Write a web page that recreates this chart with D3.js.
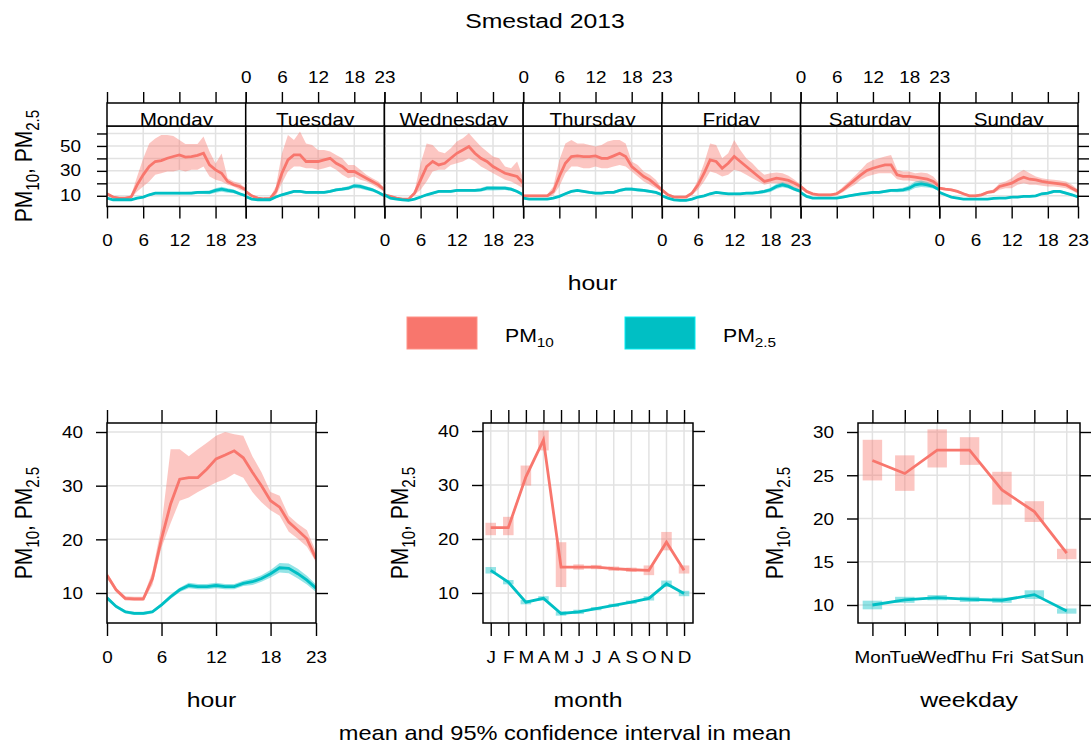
<!DOCTYPE html>
<html>
<head>
<meta charset="utf-8">
<script src="https://cdn.jsdelivr.net/npm/d3@7"></script>
<style>
  body { margin: 0; background: #fff; }
  svg { display: block; }
  text { font-family: "Liberation Sans", Arial, Helvetica, sans-serif; fill: #000; }
</style>
</head>
<body>
<svg id="chart" width="1091" height="747"></svg>
<script>
// ---------------- data ----------------
const days = ["Monday", "Tuesday", "Wednesday", "Thursday", "Friday", "Saturday", "Sunday"];
const hourTicks = [0, 6, 12, 18, 23];
const topYTicks = [10, 20, 30, 40, 50, 60];
const topYLabels = [10, 30, 50];

// hourly means by weekday (Mon..Sun), PM10
const pm10ByDay = [
  [11.6, 9.0, 8.1, 8.1, 9.0, 18.8, 26.8, 33.5, 37.5, 38.3, 40.1, 41.5, 42.8, 41.0, 41.5, 42.5, 44.1, 34.8, 30.8, 28.1, 21.5, 18.8, 17.5, 14.8],
  [13.5, 10.0, 8.1, 7.6, 7.6, 13.5, 28.1, 38.8, 42.8, 42.8, 37.5, 37.5, 37.5, 38.8, 40.1, 36.1, 33.5, 29.5, 29.5, 26.8, 24.1, 21.5, 18.8, 14.8],
  [10.8, 9.5, 8.1, 7.3, 7.3, 12.1, 22.8, 33.5, 37.5, 34.8, 36.1, 40.1, 44.1, 46.8, 49.5, 44.1, 40.1, 37.5, 33.5, 30.8, 28.1, 26.8, 25.5, 20.1],
  [10.0, 10.0, 10.0, 10.0, 10.0, 13.5, 25.5, 36.1, 41.5, 42.0, 41.5, 41.5, 42.0, 40.1, 40.1, 42.0, 44.1, 41.5, 33.5, 29.5, 25.5, 22.8, 18.8, 14.8],
  [14.8, 10.8, 9.0, 9.0, 9.0, 12.1, 18.8, 28.1, 38.8, 37.5, 32.1, 36.1, 41.5, 37.5, 33.5, 29.5, 25.5, 21.5, 22.8, 24.1, 23.3, 22.3, 20.1, 17.5],
  [17.5, 13.5, 11.6, 10.8, 10.8, 10.8, 11.6, 14.8, 18.8, 22.8, 26.8, 30.3, 32.1, 33.5, 34.8, 34.8, 26.8, 25.5, 25.5, 24.9, 24.1, 23.3, 21.5, 17.5],
  [16.1, 15.3, 14.8, 13.5, 11.6, 10.0, 10.0, 10.8, 12.7, 13.5, 17.5, 18.8, 20.1, 22.8, 24.9, 23.3, 22.8, 21.5, 20.7, 20.1, 19.6, 18.8, 16.1, 13.5]
];
const pm10ByDayLo = [
  [10.5, 8.0, 7.3, 7.3, 8.0, 13.5, 17.5, 21.5, 26.8, 28.1, 29.5, 29.5, 30.8, 29.5, 30.8, 30.8, 33.5, 25.5, 22.8, 21.5, 18.8, 17.5, 14.8, 13.5],
  [12.5, 9.0, 7.3, 6.8, 6.8, 10.0, 20.1, 29.5, 33.5, 33.5, 32.1, 32.1, 30.8, 32.1, 33.5, 30.8, 26.8, 24.1, 25.5, 22.8, 21.5, 18.8, 16.1, 13.5],
  [9.8, 8.5, 7.2, 6.4, 6.4, 10.8, 14.8, 21.5, 29.5, 30.8, 30.8, 34.8, 36.1, 37.5, 40.1, 37.5, 33.5, 30.8, 28.1, 25.5, 22.8, 21.5, 18.8, 16.1],
  [9.0, 9.0, 9.0, 9.0, 9.0, 10.5, 17.5, 28.1, 33.5, 33.5, 32.1, 32.1, 33.5, 32.1, 32.1, 33.5, 34.8, 33.5, 29.5, 25.5, 21.5, 18.8, 16.1, 13.5],
  [13.5, 9.8, 8.0, 8.0, 8.0, 10.8, 14.8, 21.5, 29.5, 28.1, 25.5, 26.8, 30.8, 29.5, 26.8, 24.1, 21.5, 18.8, 20.1, 20.1, 18.8, 17.5, 16.1, 14.8],
  [16.5, 12.5, 10.7, 9.8, 9.8, 9.8, 10.5, 12.8, 16.1, 18.8, 22.8, 25.5, 26.8, 28.1, 28.1, 28.1, 23.3, 22.3, 22.3, 21.5, 20.1, 18.8, 17.5, 14.8],
  [15.0, 14.3, 13.8, 12.5, 10.6, 9.0, 9.0, 9.8, 11.6, 12.1, 14.8, 16.1, 16.1, 18.8, 20.1, 18.8, 18.8, 18.0, 17.5, 17.5, 16.9, 16.1, 14.3, 11.6]
];
const pm10ByDayHi = [
  [12.5, 10.0, 9.0, 9.0, 10.5, 25.5, 40.0, 52.0, 56.0, 58.8, 58.8, 58.0, 54.8, 51.6, 51.6, 51.6, 57.5, 45.5, 36.0, 44.0, 24.0, 21.5, 20.0, 16.0],
  [14.5, 11.0, 9.0, 8.5, 8.5, 17.5, 44.0, 58.8, 54.8, 61.5, 52.0, 50.8, 46.8, 46.8, 45.5, 42.8, 40.1, 34.8, 34.8, 30.8, 26.8, 24.1, 21.5, 16.1],
  [11.8, 10.5, 9.0, 8.2, 8.2, 14.0, 36.0, 52.0, 50.8, 45.5, 44.1, 48.1, 53.5, 56.1, 60.1, 54.8, 49.5, 45.5, 41.5, 40.1, 33.5, 32.1, 37.5, 24.1],
  [11.0, 11.0, 11.0, 11.0, 11.0, 17.5, 38.8, 52.0, 54.8, 52.0, 52.0, 50.8, 49.5, 50.8, 53.5, 54.8, 54.8, 52.0, 37.5, 34.8, 29.5, 26.8, 22.8, 16.1],
  [16.0, 12.0, 10.0, 10.0, 10.0, 13.5, 22.8, 36.1, 52.0, 50.8, 40.1, 44.1, 54.8, 46.8, 40.1, 36.1, 30.8, 26.8, 28.1, 28.7, 28.1, 26.0, 22.8, 18.8],
  [18.5, 14.5, 12.5, 11.8, 11.8, 11.8, 12.8, 17.0, 21.5, 26.0, 30.8, 36.1, 38.8, 40.1, 41.5, 42.8, 30.8, 29.5, 29.5, 28.1, 28.7, 28.1, 25.5, 20.1],
  [17.2, 16.3, 15.8, 14.5, 12.6, 11.0, 11.0, 11.8, 13.8, 15.0, 20.1, 21.5, 24.1, 28.1, 30.8, 28.1, 25.5, 24.1, 23.3, 22.8, 22.3, 21.5, 18.8, 14.8]
];

// hourly means by weekday, PM2.5, with half-width of the 95% interval
const pm25ByDay = [
  [8.1, 6.8, 6.8, 6.8, 6.8, 8.1, 9.0, 10.8, 12.1, 12.1, 12.1, 12.1, 12.1, 12.1, 12.1, 12.7, 12.7, 12.7, 14.3, 15.3, 14.3, 13.5, 11.6, 10.0],
  [9.5, 7.3, 6.8, 6.8, 6.8, 9.0, 10.8, 12.1, 13.5, 13.5, 12.7, 12.7, 12.7, 12.7, 13.5, 14.8, 15.3, 16.1, 18.0, 17.5, 16.1, 14.8, 12.7, 10.0],
  [10.8, 8.1, 7.3, 6.8, 6.3, 7.3, 9.0, 10.8, 12.1, 13.5, 13.5, 13.5, 14.3, 14.3, 14.3, 14.3, 14.8, 16.1, 16.1, 16.1, 16.1, 15.3, 13.5, 10.8],
  [8.1, 7.3, 7.3, 7.3, 7.3, 8.1, 9.5, 11.6, 13.5, 14.3, 13.5, 12.7, 12.1, 12.1, 12.7, 12.7, 14.3, 15.3, 15.3, 14.8, 14.3, 13.5, 12.7, 10.8],
  [10.0, 8.1, 6.8, 6.3, 6.3, 7.3, 9.0, 10.0, 11.6, 12.7, 12.1, 11.6, 11.6, 11.6, 12.1, 12.1, 12.7, 13.5, 14.8, 17.5, 18.8, 17.5, 15.3, 13.5],
  [12.7, 9.5, 8.1, 8.1, 8.1, 8.1, 8.1, 9.0, 10.0, 10.8, 11.6, 12.1, 12.7, 12.7, 13.5, 14.3, 14.3, 14.8, 16.1, 18.8, 19.6, 18.8, 17.5, 14.8],
  [12.7, 10.8, 9.0, 8.1, 7.3, 7.3, 7.3, 7.3, 7.3, 7.9, 8.1, 8.1, 9.0, 9.0, 9.5, 9.5, 10.0, 11.6, 12.1, 13.5, 13.5, 12.1, 10.8, 9.0]
];
const pm25ByDayCi = [
  [0.8, 0.7, 0.6, 0.6, 0.6, 0.7, 0.8, 0.9, 1.0, 1.0, 1.0, 1.0, 1.0, 1.0, 1.1, 1.2, 1.3, 1.5, 1.8, 2.0, 1.8, 1.5, 1.2, 1.0],
  [0.8, 0.7, 0.6, 0.6, 0.6, 0.7, 0.9, 1.0, 1.0, 1.0, 1.0, 1.0, 1.0, 1.0, 1.1, 1.2, 1.3, 1.5, 1.7, 1.8, 1.6, 1.4, 1.2, 1.0],
  [0.8, 0.7, 0.6, 0.6, 0.6, 0.7, 0.8, 0.9, 1.0, 1.0, 1.0, 1.0, 1.0, 1.0, 1.0, 1.2, 1.4, 1.8, 1.8, 1.6, 1.5, 1.3, 1.1, 1.0],
  [0.8, 0.7, 0.6, 0.6, 0.6, 0.7, 0.8, 0.9, 1.0, 1.0, 1.0, 1.0, 1.0, 1.0, 1.0, 1.1, 1.2, 1.3, 1.3, 1.3, 1.2, 1.1, 1.0, 0.9],
  [0.8, 0.7, 0.6, 0.6, 0.6, 0.7, 0.8, 0.9, 1.0, 1.0, 1.0, 1.0, 1.0, 1.0, 1.0, 1.1, 1.2, 1.4, 1.7, 2.0, 2.0, 1.7, 1.4, 1.1],
  [0.9, 0.8, 0.7, 0.7, 0.7, 0.7, 0.7, 0.8, 0.9, 1.0, 1.0, 1.0, 1.0, 1.0, 1.1, 1.2, 1.4, 1.7, 2.2, 2.6, 2.6, 2.2, 1.6, 1.2],
  [0.9, 0.8, 0.7, 0.6, 0.6, 0.6, 0.6, 0.6, 0.6, 0.6, 0.7, 0.7, 0.7, 0.8, 0.8, 0.8, 0.9, 1.0, 1.1, 1.2, 1.2, 1.1, 0.9, 0.8]
];

// overall diurnal cycle
const hours = [0, 1, 2, 3, 4, 5, 6, 7, 8, 9, 10, 11, 12, 13, 14, 15, 16, 17, 18, 19, 20, 21, 22, 23];
const pm10Hour   = [13.3, 10.6, 9.0, 8.9, 8.9, 12.7, 20.1, 26.6, 31.2, 31.5, 31.5, 33.1, 35.0, 35.7, 36.5, 35.2, 32.5, 30.0, 27.2, 26.0, 23.2, 21.7, 20.1, 16.4];
const pm10HourLo = [12.8, 10.2, 8.6, 8.5, 8.5, 11.5, 18.5, 23.0, 27.2, 27.8, 28.8, 29.7, 30.6, 31.2, 32.2, 31.5, 28.8, 26.9, 25.4, 24.4, 21.4, 20.1, 18.6, 15.8];
const pm10HourHi = [13.8, 11.0, 9.4, 9.3, 9.3, 14.0, 22.6, 36.8, 36.8, 35.5, 36.8, 38.0, 39.3, 40.0, 39.6, 39.3, 35.5, 32.5, 28.8, 28.1, 24.4, 22.9, 21.7, 17.7];
const pm25Hour   = [9.1, 7.5, 6.5, 6.2, 6.2, 6.5, 7.8, 9.3, 10.6, 11.4, 11.2, 11.2, 11.4, 11.2, 11.2, 11.8, 12.1, 12.7, 13.6, 14.7, 14.6, 13.6, 12.4, 10.9];
const pm25HourCi = [0.4, 0.3, 0.3, 0.3, 0.3, 0.3, 0.3, 0.4, 0.4, 0.5, 0.5, 0.5, 0.5, 0.5, 0.5, 0.5, 0.6, 0.6, 0.7, 0.9, 0.9, 0.9, 0.8, 0.7];

// monthly means
const months = [1, 2, 3, 4, 5, 6, 7, 8, 9, 10, 11, 12];
const monthLabels = ["J", "F", "M", "A", "M", "J", "J", "A", "S", "O", "N", "D"];
const pm10Month   = [22.1, 22.1, 31.5, 38.3, 14.8, 14.8, 14.8, 14.5, 14.3, 14.2, 19.4, 14.2];
const pm10MonthLo = [20.7, 20.7, 29.9, 36.4, 11.1, 14.3, 14.4, 14.1, 13.9, 13.3, 17.9, 13.6];
const pm10MonthHi = [23.0, 24.1, 33.6, 40.1, 19.4, 15.3, 15.2, 14.9, 14.7, 15.1, 21.3, 15.1];
const pm25Month   = [14.2, 12.0, 8.3, 9.0, 6.2, 6.5, 7.1, 7.7, 8.3, 9.0, 11.7, 9.9];
const pm25MonthLo = [13.6, 11.6, 7.9, 8.6, 5.8, 6.1, 6.8, 7.4, 8.0, 8.6, 11.1, 9.4];
const pm25MonthHi = [14.8, 12.4, 8.7, 9.4, 6.6, 6.9, 7.4, 8.0, 8.6, 9.4, 12.3, 10.4];

// weekday means
const weekdays = [1, 2, 3, 4, 5, 6, 7];
const weekdayLabels = ["Mon", "Tue", "Wed", "Thu", "Fri", "Sat", "Sun"];
const pm10Weekday   = [26.7, 25.2, 27.9, 27.9, 23.3, 20.8, 16.0];
const pm10WeekdayLo = [24.4, 23.2, 25.9, 26.2, 21.6, 19.6, 15.3];
const pm10WeekdayHi = [29.1, 27.3, 30.3, 29.4, 25.4, 22.0, 16.5];
const pm25Weekday   = [10.0, 10.6, 10.85, 10.65, 10.55, 11.2, 9.3];
const pm25WeekdayLo = [9.5, 10.25, 10.55, 10.35, 10.25, 10.7, 9.0];
const pm25WeekdayHi = [10.5, 10.95, 11.15, 10.95, 10.85, 11.7, 9.6];

// ---------------- drawing ----------------
const COL10 = "#F8766D", COL25 = "#00BFC4";
const BAND_OPACITY = 0.42;
const GRID = "#e2e2e2";
const SX = 1.18;            // horizontal glyph stretch of all text
const TICK_FS = 16;

const svg = d3.select("#chart");

function txt(g, x, y, str, size, anchor = "middle", rotate = false) {
  return g.append("text")
    .attr("transform", `translate(${x},${y}) scale(${SX},1)` + (rotate ? " rotate(-90)" : ""))
    .attr("text-anchor", anchor)
    .attr("font-size", size)
    .text(str);
}

function pmLabel(g, x, y, size, rotate) {
  const t = g.append("text")
    .attr("transform", `translate(${x},${y}) scale(${SX},1)` + (rotate ? " rotate(-90)" : ""))
    .attr("text-anchor", "middle")
    .attr("font-size", size);
  t.append("tspan").text("PM");
  t.append("tspan").attr("font-size", size * 0.72).attr("dy", size * 0.3).text("10");
  t.append("tspan").attr("dy", -size * 0.3).text(", PM");
  t.append("tspan").attr("font-size", size * 0.72).attr("dy", size * 0.3).text("2.5");
  return t;
}

function styleAxis(g, labelFn) {
  g.select(".domain").remove();
  g.attr("font-family", null).attr("font-size", TICK_FS);
  g.selectAll(".tick line").attr("stroke", "#000").attr("stroke-width", 1.4);
  g.selectAll(".tick text").attr("fill", "#000");
  if (labelFn) labelFn(g.selectAll(".tick text"));
}

// title
txt(svg, 545, 28, "Smestad 2013", 21);

// ---------- top row: hour by weekday ----------
const topL = 107, topR = 1078;
const stripTop = 103, panTop = 126, panBot = 206.5;
const pw = (topR - topL) / days.length;
const yTop = d3.scaleLinear().domain([1.4, 66]).range([panBot, panTop]);

const defs = svg.append("defs");

days.forEach((day, i) => {
  const x0 = topL + i * pw, x1 = x0 + pw;
  const x = d3.scaleLinear().domain([0, 23]).range([x0, x1]);
  const g = svg.append("g");

  defs.append("clipPath").attr("id", "clipP" + i)
    .append("rect").attr("x", x0).attr("y", panTop).attr("width", pw).attr("height", panBot - panTop);
  defs.append("clipPath").attr("id", "clipS" + i)
    .append("rect").attr("x", x0).attr("y", stripTop).attr("width", pw).attr("height", panTop - stripTop);

  // grid
  g.selectAll(".hg").data(topYTicks).join("line")
    .attr("x1", x0).attr("x2", x1).attr("y1", d => yTop(d)).attr("y2", d => yTop(d))
    .attr("stroke", GRID).attr("stroke-width", 1.5);
  g.selectAll(".vg").data(hourTicks).join("line")
    .attr("x1", d => x(d)).attr("x2", d => x(d)).attr("y1", panTop).attr("y2", panBot)
    .attr("stroke", GRID).attr("stroke-width", 1.5);

  const inner = g.append("g").attr("clip-path", `url(#clipP${i})`);
  const area = d3.area().x((d, j) => x(j)).y0(d => yTop(d[0])).y1(d => yTop(d[1]));
  const line = d3.line().x((d, j) => x(j)).y(d => yTop(d));

  const band10 = pm10ByDay[i].map((v, j) => [pm10ByDayLo[i][j], pm10ByDayHi[i][j]]);
  const band25 = pm25ByDay[i].map((v, j) => [v - pm25ByDayCi[i][j], v + pm25ByDayCi[i][j]]);
  inner.append("path").attr("d", area(band10)).attr("fill", COL10).attr("fill-opacity", BAND_OPACITY);
  inner.append("path").attr("d", area(band25)).attr("fill", COL25).attr("fill-opacity", BAND_OPACITY);
  inner.append("path").attr("d", line(pm10ByDay[i])).attr("fill", "none").attr("stroke", COL10).attr("stroke-width", 2.8);
  inner.append("path").attr("d", line(pm25ByDay[i])).attr("fill", "none").attr("stroke", COL25).attr("stroke-width", 2.8);

  // panel box
  g.append("rect").attr("x", x0).attr("y", panTop).attr("width", pw).attr("height", panBot - panTop)
    .attr("fill", "none").attr("stroke", "#000").attr("stroke-width", 1.5);

  // strip
  g.append("rect").attr("x", x0).attr("y", stripTop).attr("width", pw).attr("height", panTop - stripTop)
    .attr("fill", "#fff").attr("stroke", "#000").attr("stroke-width", 1.5);
  const sg = g.append("g").attr("clip-path", `url(#clipS${i})`);
  txt(sg, (x0 + x1) / 2, 125.5, day, 17.5);

  // x axes: bottom labels on odd panels, top labels on even panels
  const labelBottom = i % 2 === 0;
  g.append("g").attr("transform", `translate(0,${panBot})`)
    .call(d3.axisBottom(x).tickValues(hourTicks).tickSizeInner(12).tickSizeOuter(0).tickPadding(16)
      .tickFormat(d => labelBottom ? d : ""))
    .call(a => styleAxis(a, t => t.attr("transform", `scale(${SX},1)`)));
  g.append("g").attr("transform", `translate(0,${stripTop})`)
    .call(d3.axisTop(x).tickValues(hourTicks).tickSizeInner(11).tickSizeOuter(0).tickPadding(9)
      .tickFormat(d => labelBottom ? "" : d))
    .call(a => styleAxis(a, t => t.attr("transform", `scale(${SX},1)`)));
});

// y axes for the top row
svg.append("g").attr("transform", `translate(${topL},0)`)
  .call(d3.axisLeft(yTop).tickValues(topYTicks).tickSizeInner(10).tickSizeOuter(0)
    .tickFormat(d => topYLabels.includes(d) ? d : ""))
  .call(a => styleAxis(a, t => t.attr("x", -26 / SX).attr("transform", `scale(${SX},1)`)));
svg.append("g").attr("transform", `translate(${topR},0)`)
  .call(d3.axisRight(yTop).tickValues(topYTicks).tickSizeInner(11).tickSizeOuter(0).tickFormat(""))
  .call(a => styleAxis(a));

pmLabel(svg, topL - 75, 166, 21, true);
txt(svg, (topL + topR) / 2, 290, "hour", 21);

// ---------- legend ----------
const legend = svg.append("g");
[[407, COL10, "10"], [625, COL25, "2.5"]].forEach(([lx, col, sub]) => {
  legend.append("rect").attr("x", lx).attr("y", 317).attr("width", 70).attr("height", 32)
    .attr("fill", col).attr("stroke", d3.color(col).brighter(0.6)).attr("stroke-width", 1);
  const t = legend.append("text")
    .attr("transform", `translate(${lx + 98},342) scale(${SX},1)`)
    .attr("font-size", 18);
  t.append("tspan").text("PM");
  t.append("tspan").attr("font-size", 13).attr("dy", 5).text(sub);
});

// ---------- bottom row ----------
const bTop = 423, bBot = 623;

function bottomPanel(opt) {
  const { x0, x1, xDomain, yDomain, yTicks, xTicks, xLabels, vGrid, title } = opt;
  const x = d3.scaleLinear().domain(xDomain).range([x0, x1]);
  const y = d3.scaleLinear().domain(yDomain).range([bBot, bTop]);
  const g = svg.append("g");
  const id = "clipB" + title;
  defs.append("clipPath").attr("id", id)
    .append("rect").attr("x", x0).attr("y", bTop).attr("width", x1 - x0).attr("height", bBot - bTop);

  g.selectAll(".hg").data(yTicks).join("line")
    .attr("x1", x0).attr("x2", x1).attr("y1", d => y(d)).attr("y2", d => y(d))
    .attr("stroke", GRID).attr("stroke-width", 1.5);
  g.selectAll(".vg").data(vGrid).join("line")
    .attr("x1", d => x(d)).attr("x2", d => x(d)).attr("y1", bTop).attr("y2", bBot)
    .attr("stroke", GRID).attr("stroke-width", 1.5);

  const inner = g.append("g").attr("clip-path", `url(#${id})`);
  opt.draw(inner, x, y);

  g.append("rect").attr("x", x0).attr("y", bTop).attr("width", x1 - x0).attr("height", bBot - bTop)
    .attr("fill", "none").attr("stroke", "#000").attr("stroke-width", 1.5);

  g.append("g").attr("transform", `translate(0,${bBot})`)
    .call(d3.axisBottom(x).tickValues(xTicks).tickSizeInner(13).tickSizeOuter(0).tickPadding(16)
      .tickFormat((d, k) => xLabels[k]))
    .call(a => styleAxis(a, t => t.attr("transform", `scale(${SX},1)`)));
  g.append("g").attr("transform", `translate(0,${bTop})`)
    .call(d3.axisTop(x).tickValues(xTicks).tickSizeInner(13).tickSizeOuter(0).tickFormat(""))
    .call(a => styleAxis(a));
  g.append("g").attr("transform", `translate(${x0},0)`)
    .call(d3.axisLeft(y).tickValues(yTicks).tickSizeInner(11).tickSizeOuter(0))
    .call(a => styleAxis(a, t => t.attr("x", -24 / SX).attr("dy", "0.36em").attr("transform", `scale(${SX},1)`)));
  g.append("g").attr("transform", `translate(${x1},0)`)
    .call(d3.axisRight(y).tickValues(yTicks).tickSizeInner(12).tickSizeOuter(0).tickFormat(""))
    .call(a => styleAxis(a));

  pmLabel(svg, x0 - 75, (bTop + bBot) / 2, 21, true);
  txt(svg, (x0 + x1) / 2, 707, title, 21);
}

function drawLines(g, x, y, xs, series) {
  series.forEach(([vals, col]) => {
    g.append("path")
      .attr("d", d3.line().x((d, j) => x(xs[j])).y(d => y(d))(vals))
      .attr("fill", "none").attr("stroke", col).attr("stroke-width", 2.8);
  });
}

function drawBoxes(g, x, y, xs, lo, hi, col) {
  g.selectAll(null).data(xs).join("rect")
    .attr("x", d => x(d - 0.3)).attr("width", d => x(d + 0.3) - x(d - 0.3))
    .attr("y", (d, j) => y(hi[j])).attr("height", (d, j) => y(lo[j]) - y(hi[j]))
    .attr("fill", col).attr("fill-opacity", BAND_OPACITY);
}

// diurnal
bottomPanel({
  x0: 107, x1: 316, xDomain: [0, 23], yDomain: [4.41, 41.68],
  yTicks: [10, 20, 30, 40], xTicks: hourTicks, xLabels: hourTicks, vGrid: hourTicks, title: "hour",
  draw: (g, x, y) => {
    const area = d3.area().x((d, j) => x(hours[j])).y0(d => y(d[0])).y1(d => y(d[1]));
    g.append("path").attr("d", area(pm10Hour.map((v, j) => [pm10HourLo[j], pm10HourHi[j]])))
      .attr("fill", COL10).attr("fill-opacity", BAND_OPACITY);
    g.append("path").attr("d", area(pm25Hour.map((v, j) => [v - pm25HourCi[j], v + pm25HourCi[j]])))
      .attr("fill", COL25).attr("fill-opacity", BAND_OPACITY);
    drawLines(g, x, y, hours, [[pm10Hour, COL10], [pm25Hour, COL25]]);
  }
});

// monthly
bottomPanel({
  x0: 483, x1: 693, xDomain: [0.56, 12.51], yDomain: [4.44, 41.48],
  yTicks: [10, 20, 30, 40], xTicks: months, xLabels: monthLabels, vGrid: months, title: "month",
  draw: (g, x, y) => {
    drawBoxes(g, x, y, months, pm10MonthLo, pm10MonthHi, COL10);
    drawBoxes(g, x, y, months, pm25MonthLo, pm25MonthHi, COL25);
    drawLines(g, x, y, months, [[pm10Month, COL10], [pm25Month, COL25]]);
  }
});

// weekday
bottomPanel({
  x0: 858, x1: 1080, xDomain: [0.555, 7.41], yDomain: [7.92, 31.04],
  yTicks: [10, 15, 20, 25, 30], xTicks: weekdays, xLabels: weekdayLabels, vGrid: weekdays, title: "weekday",
  draw: (g, x, y) => {
    drawBoxes(g, x, y, weekdays, pm10WeekdayLo, pm10WeekdayHi, COL10);
    drawBoxes(g, x, y, weekdays, pm25WeekdayLo, pm25WeekdayHi, COL25);
    drawLines(g, x, y, weekdays, [[pm10Weekday, COL10], [pm25Weekday, COL25]]);
  }
});

txt(svg, 565, 740, "mean and 95% confidence interval in mean", 20);
</script>
</body>
</html>
